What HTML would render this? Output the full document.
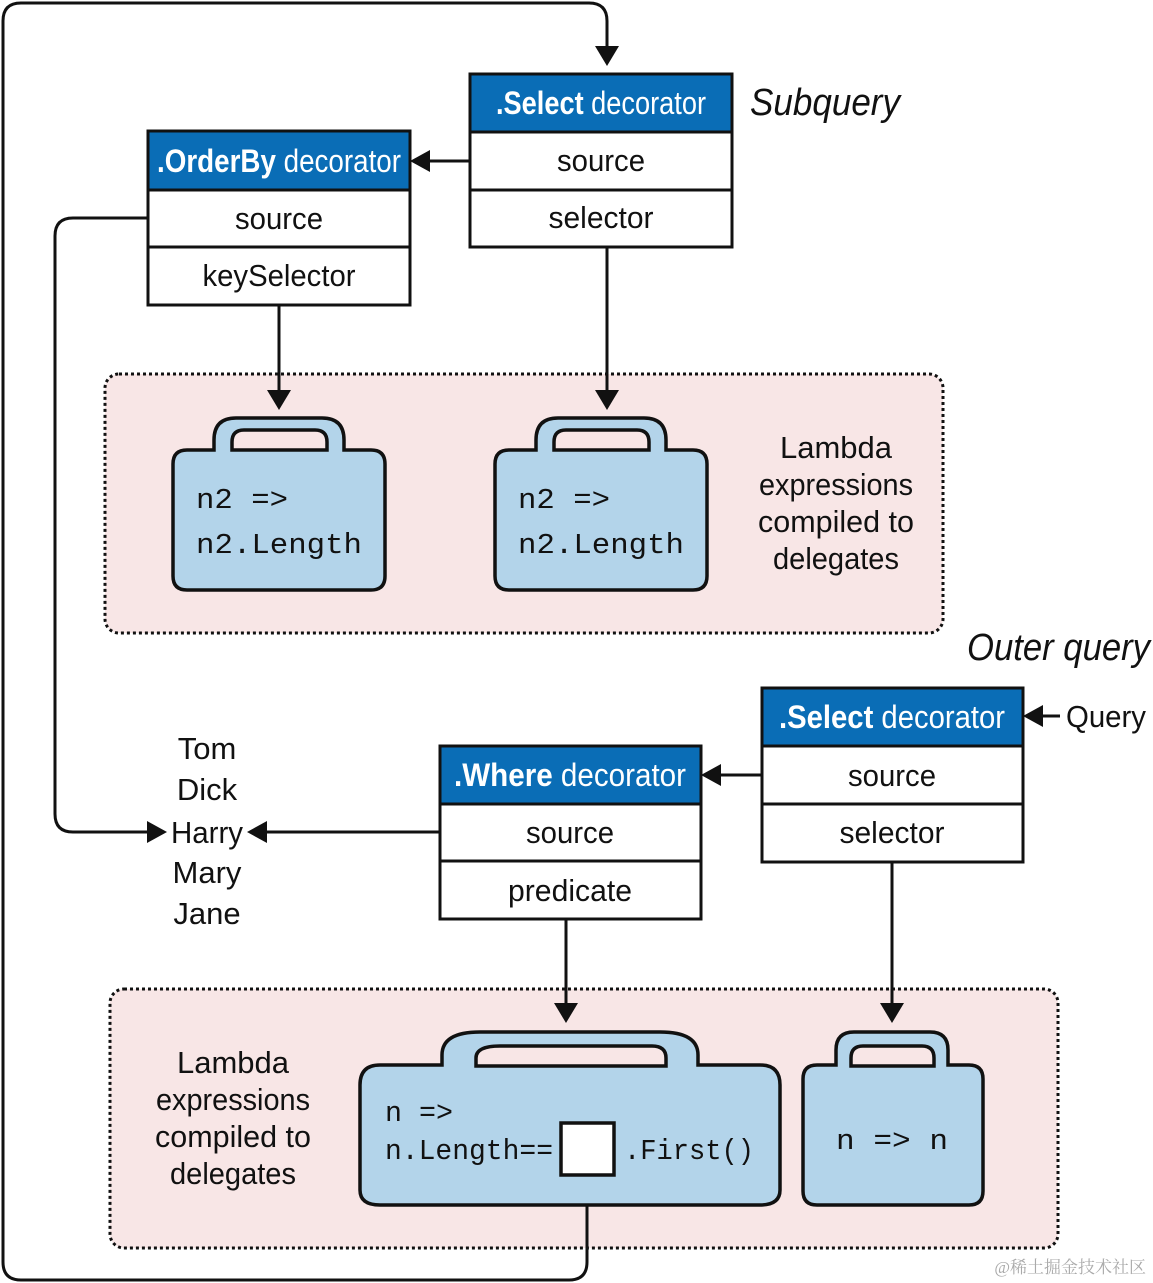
<!DOCTYPE html>
<html><head><meta charset="utf-8"><style>
html,body{margin:0;padding:0;background:#fff;}
svg{display:block;}
.t{font-family:"Liberation Sans",sans-serif;font-size:31px;fill:#111;}
.h{font-family:"Liberation Sans",sans-serif;font-size:32px;fill:#fff;}
.m{font-family:"Liberation Mono","DejaVu Sans Mono",monospace;font-size:29px;fill:#111;}
.i{font-family:"Liberation Sans",sans-serif;font-size:38px;font-style:italic;fill:#111;}
</style></head><body>
<svg width="1153" height="1283" viewBox="0 0 1153 1283" xmlns="http://www.w3.org/2000/svg">
<rect x="105" y="374" width="838" height="259" rx="14" fill="#f8e6e6" stroke="#111" stroke-width="3" stroke-dasharray="3 3"/>
<rect x="110" y="989" width="948" height="259" rx="14" fill="#f8e6e6" stroke="#111" stroke-width="3" stroke-dasharray="3 3"/>

<g fill="none" stroke="#111" stroke-width="3">
<path d="M587 1175 V1262 Q587 1280 569 1280 H21 Q3 1280 3 1262 V21 Q3 3 21 3 H589 Q607 3 607 21 V48"/>
<path d="M148 218 H73 Q55 218 55 236 V814 Q55 832 73 832 H150"/>
<path d="M440 832 H265"/>
<path d="M470 161 H428"/>
<path d="M762 775 H720"/>
<path d="M1060 716 H1041"/>
<path d="M279 305 V394"/>
<path d="M607 247 V394"/>
<path d="M566 919 V1006"/>
<path d="M892 862 V1006"/>
</g>
<g fill="#111">
<polygon points="595,46 619,46 607,66"/>
<polygon points="410,161 430,150 430,172"/>
<polygon points="701,775 721,764 721,786"/>
<polygon points="1023,716 1043,705 1043,727"/>
<polygon points="167,832 147,821 147,843"/>
<polygon points="247,832 267,821 267,843"/>
<polygon points="267,390 291,390 279,410"/>
<polygon points="595,390 619,390 607,410"/>
<polygon points="554,1003 578,1003 566,1023"/>
<polygon points="880,1003 904,1003 892,1023"/>
</g>

<g stroke="#111" stroke-width="3">
<rect x="470" y="74" width="262" height="58" fill="#0a6db6"/>
<rect x="470" y="132" width="262" height="58" fill="#fff"/>
<rect x="470" y="190" width="262" height="57" fill="#fff"/>
<rect x="148" y="131" width="262" height="59" fill="#0a6db6"/>
<rect x="148" y="190" width="262" height="57" fill="#fff"/>
<rect x="148" y="247" width="262" height="58" fill="#fff"/>
<rect x="762" y="688" width="261" height="58" fill="#0a6db6"/>
<rect x="762" y="746" width="261" height="58" fill="#fff"/>
<rect x="762" y="804" width="261" height="58" fill="#fff"/>
<rect x="440" y="746" width="261" height="58" fill="#0a6db6"/>
<rect x="440" y="804" width="261" height="57" fill="#fff"/>
<rect x="440" y="861" width="261" height="58" fill="#fff"/>
</g>
<text class="h" x="601" y="114" text-anchor="middle" textLength="210" lengthAdjust="spacingAndGlyphs"><tspan font-weight="bold">.Select</tspan> decorator</text>
<text class="h" x="279" y="172" text-anchor="middle" textLength="244" lengthAdjust="spacingAndGlyphs"><tspan font-weight="bold">.OrderBy</tspan> decorator</text>
<text class="h" x="892" y="728" text-anchor="middle" textLength="226" lengthAdjust="spacingAndGlyphs"><tspan font-weight="bold">.Select</tspan> decorator</text>
<text class="h" x="570" y="786" text-anchor="middle" textLength="232" lengthAdjust="spacingAndGlyphs"><tspan font-weight="bold">.Where</tspan> decorator</text>
<g text-anchor="middle">
<text class="t" x="601" y="171" textLength="88" lengthAdjust="spacingAndGlyphs">source</text>
<text class="t" x="601" y="228" textLength="105" lengthAdjust="spacingAndGlyphs">selector</text>
<text class="t" x="279" y="229" textLength="88" lengthAdjust="spacingAndGlyphs">source</text>
<text class="t" x="279" y="286" textLength="153" lengthAdjust="spacingAndGlyphs">keySelector</text>
<text class="t" x="892" y="786" textLength="88" lengthAdjust="spacingAndGlyphs">source</text>
<text class="t" x="892" y="843" textLength="105" lengthAdjust="spacingAndGlyphs">selector</text>
<text class="t" x="570" y="843" textLength="88" lengthAdjust="spacingAndGlyphs">source</text>
<text class="t" x="570" y="901" textLength="124" lengthAdjust="spacingAndGlyphs">predicate</text>
</g>
<text class="i" x="750" y="115" textLength="150" lengthAdjust="spacingAndGlyphs">Subquery</text>
<text class="i" x="967" y="660" textLength="183" lengthAdjust="spacingAndGlyphs">Outer query</text>
<text class="t" x="1066" y="727" textLength="80" lengthAdjust="spacingAndGlyphs">Query</text>
<g text-anchor="middle">
<text class="t" x="207" y="759">Tom</text>
<text class="t" x="207" y="800">Dick</text>
<text class="t" x="207" y="843" textLength="72" lengthAdjust="spacingAndGlyphs">Harry</text>
<text class="t" x="207" y="883">Mary</text>
<text class="t" x="207" y="924">Jane</text>
<text class="t" x="836" y="458">Lambda</text>
<text class="t" x="836" y="495" textLength="154" lengthAdjust="spacingAndGlyphs">expressions</text>
<text class="t" x="836" y="532" textLength="156" lengthAdjust="spacingAndGlyphs">compiled to</text>
<text class="t" x="836" y="569" textLength="126" lengthAdjust="spacingAndGlyphs">delegates</text>
<text class="t" x="233" y="1073">Lambda</text>
<text class="t" x="233" y="1110" textLength="154" lengthAdjust="spacingAndGlyphs">expressions</text>
<text class="t" x="233" y="1147" textLength="156" lengthAdjust="spacingAndGlyphs">compiled to</text>
<text class="t" x="233" y="1184" textLength="126" lengthAdjust="spacingAndGlyphs">delegates</text>
</g>

<g fill="#b3d4ea" stroke="#111" stroke-width="3.5">
<path d="M214 450 V440 Q214 418 236 418 H322 Q344 418 344 440 V450 H371 Q385 450 385 464 V576 Q385 590 371 590 H187 Q173 590 173 576 V464 Q173 450 187 450 Z"/>
<path d="M536 450 V440 Q536 418 558 418 H644 Q666 418 666 440 V450 H693 Q707 450 707 464 V576 Q707 590 693 590 H509 Q495 590 495 576 V464 Q495 450 509 450 Z"/>
<path d="M442 1065 V1055 Q442 1032 480 1032 H660 Q698 1032 698 1055 V1065 H760 Q780 1065 780 1085 V1190 Q780 1205 760 1205 H380 Q360 1205 360 1190 V1085 Q360 1065 380 1065 Z"/>
<path d="M836 1065 V1050 Q836 1032 854 1032 H930 Q948 1032 948 1050 V1065 H969 Q983 1065 983 1079 V1191 Q983 1205 969 1205 H817 Q803 1205 803 1191 V1079 Q803 1065 817 1065 Z"/>
</g>
<g fill="#f8e6e6" stroke="#111" stroke-width="3.5">
<path d="M232 450 V442 Q232 430 244 430 H315 Q327 430 327 442 V450 Z"/>
<path d="M554 450 V442 Q554 430 566 430 H637 Q649 430 649 442 V450 Z"/>
<path d="M476 1066 V1058 Q476 1046 500 1046 H652 Q666 1046 666 1058 V1066 Z"/>
<path d="M851 1066 V1058 Q851 1046 863 1046 H922 Q934 1046 934 1058 V1066 Z"/>
</g>
<rect x="561" y="1123" width="53" height="52" fill="#fff" stroke="#111" stroke-width="3.5"/>
<text class="m" x="196" y="508" textLength="92" lengthAdjust="spacingAndGlyphs">n2 =&gt;</text>
<text class="m" x="196" y="553" textLength="166" lengthAdjust="spacingAndGlyphs">n2.Length</text>
<text class="m" x="518" y="508" textLength="92" lengthAdjust="spacingAndGlyphs">n2 =&gt;</text>
<text class="m" x="518" y="553" textLength="166" lengthAdjust="spacingAndGlyphs">n2.Length</text>
<text class="m" x="385" y="1121" font-size="26" textLength="68" lengthAdjust="spacingAndGlyphs">n =&gt;</text>
<text class="m" x="385" y="1159" font-size="28" textLength="168" lengthAdjust="spacingAndGlyphs">n.Length==</text>
<text class="m" x="624" y="1159" font-size="28" textLength="130" lengthAdjust="spacingAndGlyphs">.First()</text>
<text class="m" x="836" y="1149" font-size="28" textLength="112" lengthAdjust="spacingAndGlyphs">n =&gt; n</text>
<text x="1146" y="1273" text-anchor="end" font-family="'Liberation Serif','Noto Serif CJK SC',serif" font-size="17" fill="#aaa">@稀土掘金技术社区</text>
</svg>
</body></html>
